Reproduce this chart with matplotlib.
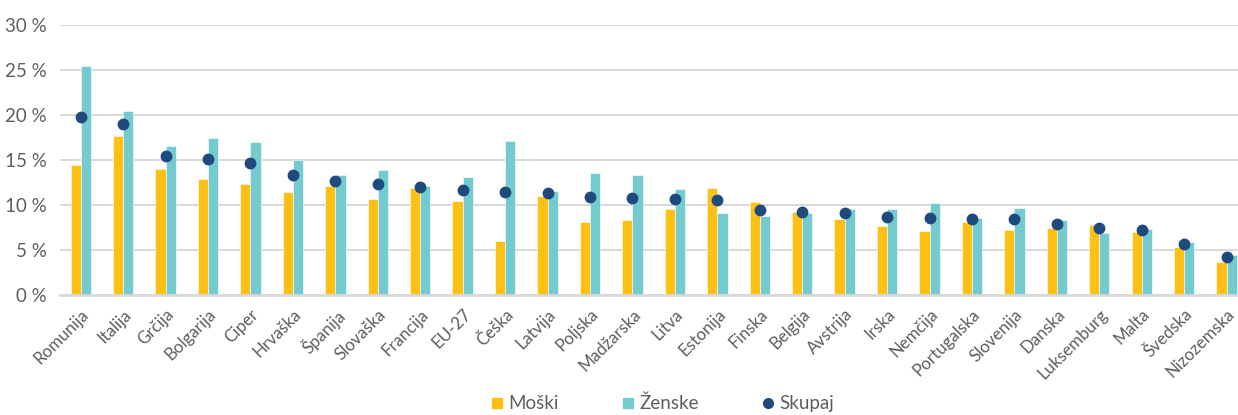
import matplotlib
matplotlib.use("Agg")
import matplotlib.pyplot as plt
from matplotlib.lines import Line2D
import numpy as np

countries = [
    "Romunija", "Italija", "Grčija", "Bolgarija", "Ciper", "Hrvaška", "Španija",
    "Slovaška", "Francija", "EU-27", "Češka", "Latvija", "Poljska", "Madžarska",
    "Litva", "Estonija", "Finska", "Belgija", "Avstrija", "Irska", "Nemčija",
    "Portugalska", "Slovenija", "Danska", "Luksemburg", "Malta", "Švedska",
    "Nizozemska",
]
moski = [14.4, 17.7, 14.0, 12.9, 12.3, 11.4, 12.1, 10.7, 11.85, 10.4, 6.0, 11.0,
         8.1, 8.3, 9.6, 11.85, 10.3, 9.2, 8.4, 7.7, 7.1, 8.1, 7.2, 7.5, 7.8, 7.0,
         5.3, 3.7]
zenske = [25.4, 20.4, 16.6, 17.4, 17.0, 15.0, 13.3, 13.9, 12.1, 13.1, 17.1, 11.6,
          13.6, 13.3, 11.8, 9.1, 8.8, 9.1, 9.6, 9.6, 10.2, 8.6, 9.7, 8.3, 6.85, 7.3,
          5.85, 4.5]
skupaj = [19.8, 19.0, 15.4, 15.1, 14.7, 13.3, 12.7, 12.3, 12.0, 11.7, 11.4, 11.3,
          10.9, 10.8, 10.7, 10.6, 9.5, 9.2, 9.1, 8.7, 8.6, 8.4, 8.4, 7.9, 7.4, 7.2,
          5.7, 4.2]
yticks = [0, 5, 10, 15, 20, 25, 30]

YELLOW = "#FEC013"
CYAN = "#74CBCF"
NAVY = "#1F4A7E"
TEXT = "#5E5E5E"
GRID = "#D9D9D9"

plt.rcParams["font.family"] = ["Lato", "DejaVu Sans"]

W, H = 1238, 415
fig = plt.figure(figsize=(W / 100, H / 100), dpi=100)
left, bottom, top = 59.5, 120, 390
ax = fig.add_axes([left / W, bottom / H, (W - left) / W, (top - bottom) / H])

x = np.arange(len(countries))
bw = 0.24
ax.bar(x - bw / 2, moski, bw, color=YELLOW, edgecolor="white", linewidth=0.4, zorder=2)
ax.bar(x + bw / 2, zenske, bw, color=CYAN, edgecolor="white", linewidth=0.4, zorder=2)
ax.plot(x, skupaj, "o", color=NAVY, markersize=7.5, zorder=3)

step = 42.44
ax.set_xlim(-0.5, -0.5 + (W - left) / step)
ax.set_ylim(0, 30)
ax.set_yticks(yticks)
ax.set_yticklabels([f"{t} %" for t in yticks])
ax.set_xticks(x)
ax.set_xticklabels(countries, rotation=45, ha="right", rotation_mode="anchor")
ax.tick_params(axis="both", length=0, colors=TEXT)
ax.tick_params(axis="y", pad=9, labelsize=13.5)
ax.tick_params(axis="x", pad=8, labelsize=12.2)

ax.grid(axis="y", color=GRID, linewidth=1.4, zorder=0)
for s in ["top", "right", "left"]:
    ax.spines[s].set_visible(False)
ax.spines["bottom"].set_color(GRID)
ax.spines["bottom"].set_linewidth(2)
ax.set_axisbelow(True)

handles = [
    Line2D([], [], marker="s", linestyle="none", color=YELLOW, markersize=7),
    Line2D([], [], marker="s", linestyle="none", color=CYAN, markersize=7),
    Line2D([], [], marker="o", linestyle="none", color=NAVY, markersize=7),
]
fig.legend(handles, ["Moški", "Ženske", "Skupaj"], loc="center",
           bbox_to_anchor=(0.534, 0.028), ncol=3, frameon=False,
           fontsize=13.5, labelcolor=TEXT, handletextpad=0.1,
           columnspacing=3.2, handlelength=1.0)

fig.savefig("out.png", dpi=100)
